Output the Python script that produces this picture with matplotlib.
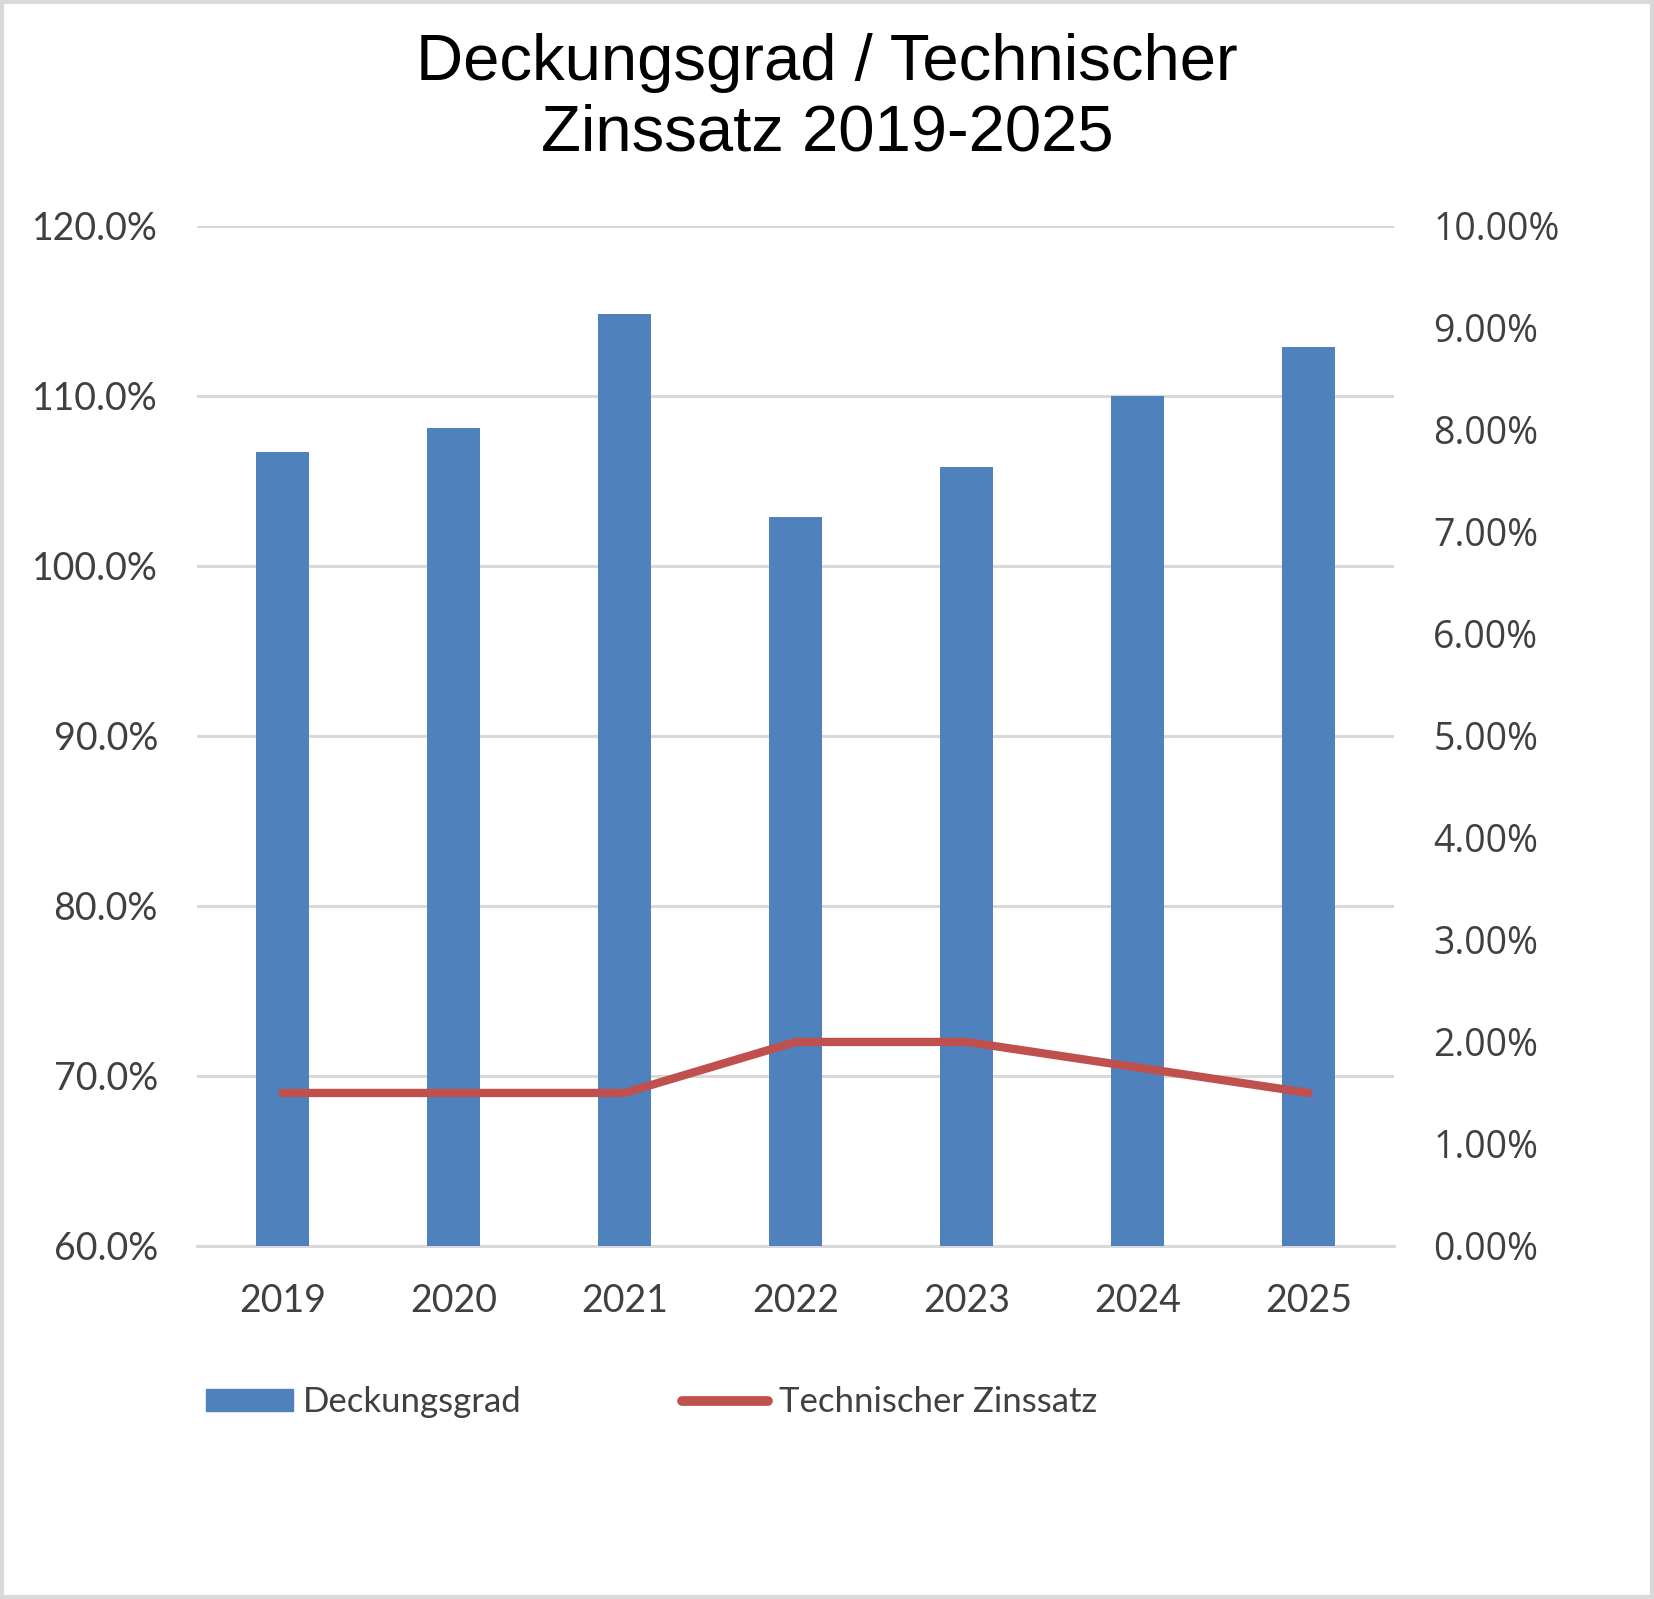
import matplotlib.pyplot as plt
from matplotlib.ticker import FuncFormatter, MultipleLocator
from matplotlib.patches import Rectangle
from matplotlib.lines import Line2D

# Daten
jahre = ["2019", "2020", "2021", "2022", "2023", "2024", "2025"]
deckungsgrad = [106.7, 108.1, 114.8, 102.9, 105.8, 110.0, 112.9]
zinssatz = [1.50, 1.50, 1.50, 2.00, 2.00, 1.75, 1.50]

blau = "#4f81bd"
rot = "#c0504d"
grau = "#d9d9d9"
text_farbe = "#404040"
schrift = ["Lato", "DejaVu Sans"]

fig = plt.figure(figsize=(16.54, 15.99), dpi=100)
ax = fig.add_axes([0.119, 0.2208, 0.724, 0.6379])

x = range(len(jahre))
ax.bar(x, [d - 60 for d in deckungsgrad], bottom=60, width=0.31, color=blau, zorder=3)
ax.set_ylim(60, 120)
ax.set_xlim(-0.5, len(jahre) - 0.5)
ax.yaxis.set_major_locator(MultipleLocator(10))
ax.yaxis.set_major_formatter(FuncFormatter(lambda v, p: f"{v:.1f}%"))
ax.grid(axis="y", color=grau, lw=2.2, zorder=0)
ax.set_xticks(list(x))
ax.set_xticklabels(jahre)

ax2 = ax.twinx()
ax2.plot(list(x), zinssatz, color=rot, lw=6, solid_capstyle="round", zorder=4)
ax2.set_ylim(0, 10)
ax2.yaxis.set_major_locator(MultipleLocator(1))
ax2.yaxis.set_major_formatter(FuncFormatter(lambda v, p: f"{v:.2f}%"))

for a in (ax, ax2):
    for s in a.spines.values():
        s.set_visible(False)
    a.tick_params(length=0, colors=text_farbe)

ax.spines["bottom"].set_visible(True)
ax.spines["bottom"].set_color(grau)
ax.spines["bottom"].set_linewidth(2.2)

for lab in ax.get_yticklabels():
    lab.set_fontfamily(schrift)
    lab.set_fontsize(27)
for lab in ax.get_xticklabels():
    lab.set_fontfamily(schrift)
    lab.set_fontsize(27)
for lab in ax2.get_yticklabels():
    lab.set_fontfamily(["Open Sans", "DejaVu Sans"])
    lab.set_fontsize(27)
ax.tick_params(axis="y", pad=28)
ax.tick_params(axis="x", pad=27)
ax2.tick_params(axis="y", pad=28)

fig.text(0.5, 0.9383, "Deckungsgrad / Technischer\nZinssatz 2019-2025", ha="center", va="center",
         fontsize=47, fontfamily=["Liberation Sans", "DejaVu Sans"], linespacing=1.22)

handles = [Rectangle((0, 0), 1, 1, color=blau),
           Line2D([0], [0], color=rot, lw=7, solid_capstyle="round")]
leg = fig.legend(handles, ["Deckungsgrad", "Technischer Zinssatz"], loc="center left",
                 bbox_to_anchor=(0.114, 0.123), ncol=2, frameon=False, borderpad=0,
                 handlelength=2.5, handleheight=0.6, handletextpad=0.3, columnspacing=4.6,
                 prop={"family": schrift, "size": 25})
for t in leg.get_texts():
    t.set_color(text_farbe)

fig.add_artist(Rectangle((0.001, 0.001), 0.998, 0.998, transform=fig.transFigure,
                         fill=False, edgecolor=grau, lw=3))

fig.savefig("out.png", dpi=100)
